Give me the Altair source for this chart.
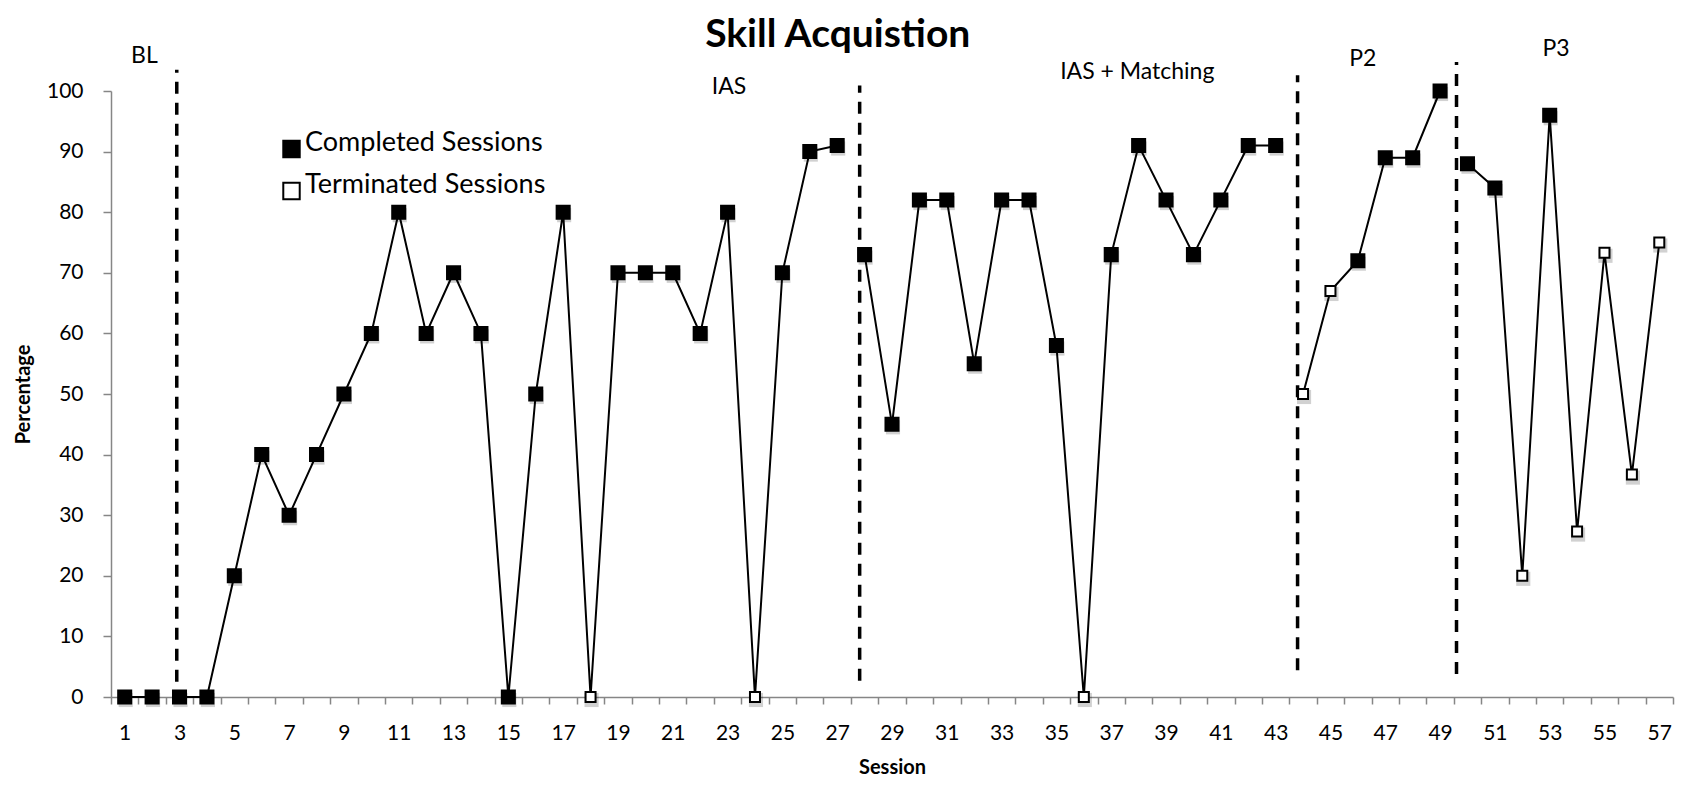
import altair as alt
import pandas as pd

# ---- data ----
sessions = list(range(1, 58))
values = [0, 0, 0, 0, 20, 40, 30, 40, 50, 60, 80, 60, 70, 60, 0, 50, 80, 0, 70, 70,
          70, 60, 80, 0, 70, 90, 91,
          73, 45, 82, 82, 55, 82, 82, 58, 0, 73, 91, 82, 73, 82, 91, 91,
          50, 67, 72, 89, 89, 100,
          88, 84, 20, 96, 27.3, 73.3, 36.7, 75]
terminated_sessions = [18, 24, 36, 44, 45, 52, 54, 55, 56, 57]
phase_names = ["BL", "IAS", "IAS + Matching", "P2", "P3"]
phase_starts = [1, 3, 28, 44, 50]

# phase change lines (x position, top, bottom)
change_x = [2.9, 27.82, 43.8, 49.6]
change_top = [103.5, 100.9, 102.6, 104.8]
change_bottom = [2.5, 2.7, 4.4, 3.8]

# phase labels
label_x = [1.72, 23.05, 37.95, 46.18, 53.23]
label_y = [105.7, 100.6, 103.1, 105.3, 107.0]

# chart title, placed in data space above the plot
title_text = ["Skill Acquistion"]
title_x = [27.02]
title_y = [107.2]

x_tick_values = [k + 0.5 for k in range(58)]
y_tick_values = list(range(0, 101, 10))
status_names = ["Completed Sessions", "Terminated Sessions"]

# ---- tables ----
def phase_of(s):
    p = phase_names[0]
    for name, st in zip(phase_names, phase_starts):
        if s >= st:
            p = name
    return p

status = [status_names[1] if s in terminated_sessions else status_names[0] for s in sessions]
df = pd.DataFrame({
    "session": sessions,
    "value": values,
    "phase": [phase_of(s) for s in sessions],
    "status": status,
})
rules_df = pd.DataFrame({"session": change_x, "value": change_bottom, "value2": change_top})
labels_df = pd.DataFrame({"session": label_x, "value": label_y, "text": phase_names})
title_df = pd.DataFrame({"session": title_x, "value": title_y, "text": title_text})

FONT = "Lato"
AX_GREY = "#868686"

x_enc = alt.X(
    "session:Q",
    scale=alt.Scale(domain=[0.5, 57.5], nice=False, zero=False),
    axis=alt.Axis(
        title="Session", values=x_tick_values,
        labelExpr="(datum.value - 0.5) % 2 == 0 ? format(datum.value + 0.5, 'd') : ''",
        labelOffset=13.7, labelOverlap=False, labelFlush=False, labelBound=False,
        tickSize=7, labelPadding=18, titlePadding=14, grid=False,
    ),
)
y_enc = alt.Y(
    "value:Q",
    scale=alt.Scale(domain=[0, 100], nice=False),
    axis=alt.Axis(title="Percentage", values=y_tick_values, tickSize=8,
                  labelPadding=20, titlePadding=13, grid=False),
)

fill_enc = alt.Fill(
    "status:N",
    scale=alt.Scale(domain=status_names, range=["black", "white"]),
    legend=alt.Legend(
        title=None, orient="none", legendX=167, legendY=38,
        symbolType="M-1,-0.2L1,-0.2L1,1.8L-1,1.8Z",
        symbolSize=270, symbolStrokeColor="black", symbolStrokeWidth=2,
        labelFont=FONT, labelFontSize=27, labelColor="black", labelLimit=400,
        rowPadding=8, padding=0, labelOffset=0,
    ),
)

rules = alt.Chart(rules_df).mark_rule(
    color="black", strokeWidth=3.5, strokeDash=[12, 9]
).encode(x=x_enc, y=y_enc, y2="value2:Q")

line = alt.Chart(df).mark_line(color="black", strokeWidth=2).encode(
    x=x_enc, y=y_enc, detail="phase:N", order="session:Q"
)

shadow = alt.Chart(df).mark_point(
    shape="square", filled=True, color="#000000", opacity=0.18, size=200, xOffset=1, yOffset=3
).encode(x=x_enc, y=y_enc)

done_pts = alt.Chart(df).transform_filter(
    alt.datum.status == status_names[0]
).mark_point(
    shape="square", filled=True, stroke="black", strokeWidth=2, opacity=1, size=170
).encode(x=x_enc, y=y_enc, fill=fill_enc)

term_pts = alt.Chart(df).transform_filter(
    alt.datum.status == status_names[1]
).mark_point(
    shape="square", filled=True, stroke="black", strokeWidth=2, opacity=1, size=100
).encode(x=x_enc, y=y_enc, fill=fill_enc)

labels = alt.Chart(labels_df).mark_text(
    font=FONT, fontSize=23, color="black", align="center", baseline="middle"
).encode(x=x_enc, y=y_enc, text="text:N")

title = alt.Chart(title_df).mark_text(
    font=FONT, fontSize=39, fontWeight="bold", color="black", align="center", baseline="alphabetic"
).encode(x=x_enc, y=y_enc, text="text:N")

chart = alt.layer(rules, line, shadow, done_pts, term_pts, labels, title).properties(
    width=1562,
    height=606,
    autosize=alt.AutoSizeParams(type="none"),
    padding={"left": 103, "top": 83, "right": 5, "bottom": 80},
).configure_view(stroke=None).configure_axis(
    domainColor=AX_GREY, tickColor=AX_GREY, domainWidth=1.5, tickWidth=1.5,
    labelFont=FONT, labelFontSize=21, labelColor="black",
    titleFont=FONT, titleFontSize=20, titleFontWeight="bold", titleColor="black",
)

chart.save("out.html", embed_options={"renderer": "svg", "actions": False})
